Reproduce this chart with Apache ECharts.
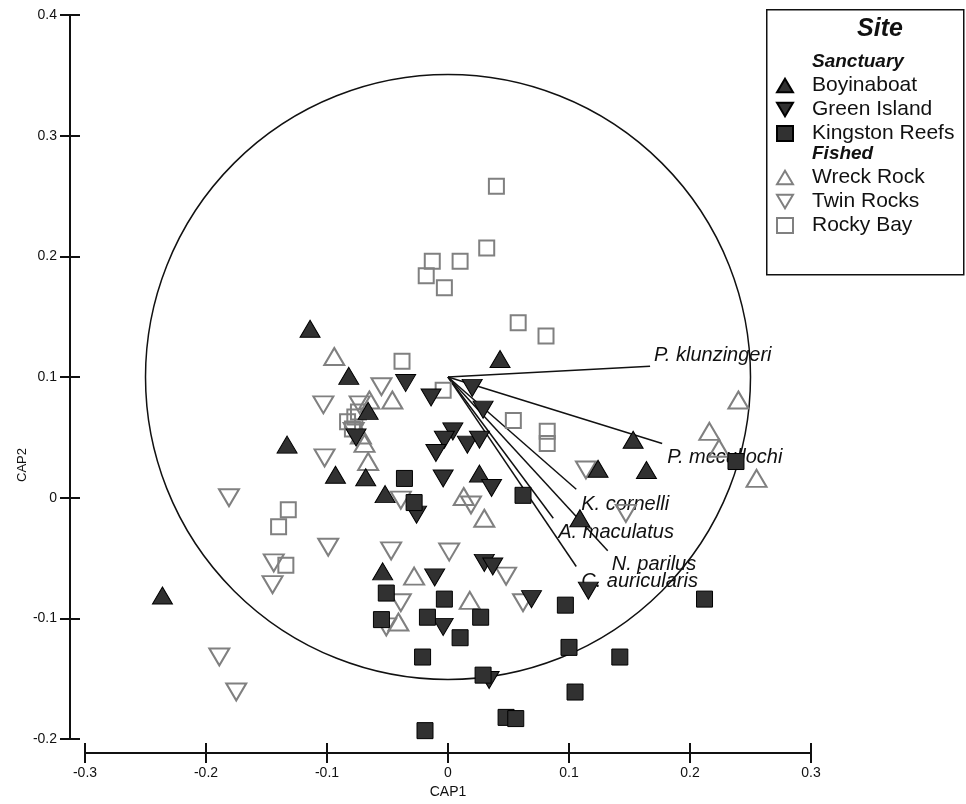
<!DOCTYPE html>
<html>
<head>
<meta charset="utf-8">
<script src="https://cdn.jsdelivr.net/npm/echarts@6/dist/echarts.min.js"></script>
<style>
  html, body { margin: 0; padding: 0; background: #fff; }
  #chart { width: 966px; height: 804px; }
</style>
</head>
<body>
<div id="chart"></div>
<script>
// CAP ordination scores by site (CAP1, CAP2)
const boyinaboat = [
  [-0.236, -0.081], [-0.114, 0.140], [-0.082, 0.101], [-0.133, 0.044], [-0.093, 0.019],
  [-0.068, 0.017], [-0.052, 0.003], [-0.066, 0.072], [-0.054, -0.061], [0.043, 0.115],
  [0.026, 0.020], [0.109, -0.017], [0.124, 0.024], [0.153, 0.048], [0.164, 0.023]
];
const greenIsland = [
  [-0.035, 0.095], [-0.014, 0.083], [0.020, 0.091], [0.029, 0.073], [0.004, 0.055],
  [-0.003, 0.048], [-0.010, 0.037], [0.016, 0.044], [0.026, 0.048], [-0.004, 0.016],
  [0.036, 0.008], [-0.026, -0.014], [-0.011, -0.066], [0.030, -0.054], [0.037, -0.057],
  [-0.004, -0.107], [0.034, -0.151], [0.069, -0.084], [0.116, -0.077], [-0.076, 0.050]
];
const kingstonReefs = [
  [-0.036, 0.016], [0.062, 0.002], [-0.028, -0.004], [0.238, 0.030], [-0.051, -0.079],
  [-0.003, -0.084], [-0.055, -0.101], [-0.017, -0.099], [0.027, -0.099], [0.010, -0.116],
  [-0.021, -0.132], [0.029, -0.147], [0.097, -0.089], [0.212, -0.084], [0.100, -0.124],
  [0.142, -0.132], [0.105, -0.161], [0.048, -0.182], [0.056, -0.183], [-0.019, -0.193]
];
const wreckRock = [
  [-0.094, 0.117], [-0.065, 0.081], [-0.046, 0.081], [-0.069, 0.045], [-0.066, 0.030],
  [0.013, 0.001], [0.030, -0.017], [-0.028, -0.065], [0.018, -0.085], [-0.041, -0.103],
  [0.216, 0.055], [0.224, 0.041], [0.240, 0.081], [0.255, 0.016], [-0.072, 0.052]
];
const twinRocks = [
  [-0.055, 0.092], [-0.103, 0.077], [-0.073, 0.077], [-0.102, 0.033], [-0.039, -0.002],
  [0.019, -0.006], [0.114, 0.023], [0.147, -0.013], [-0.181, 0.000], [-0.099, -0.041],
  [-0.144, -0.054], [-0.145, -0.072], [-0.189, -0.132], [-0.175, -0.161], [-0.047, -0.044],
  [0.001, -0.045], [0.048, -0.065], [0.062, -0.087], [-0.039, -0.087], [-0.051, -0.107],
  [-0.078, 0.055]
];
const rockyBay = [
  [0.040, 0.258], [0.032, 0.207], [-0.013, 0.196], [0.010, 0.196], [-0.018, 0.184],
  [-0.003, 0.174], [0.058, 0.145], [0.081, 0.134], [-0.038, 0.113], [-0.004, 0.089],
  [0.054, 0.064], [0.082, 0.055], [0.082, 0.045], [-0.132, -0.010], [-0.140, -0.024],
  [-0.134, -0.056], [-0.083, 0.063], [-0.077, 0.067], [-0.079, 0.057], [-0.074, 0.071]
];

// species correlation vectors (end points), drawn from the vector origin
const vectorOrigin = [0, 0.1];
const speciesNames = ['P. klunzingeri', 'P. mccullochi', 'K. cornelli', 'A. maculatus', 'N. parilus', 'C. auricularis'];
const speciesEnds = [
  [0.167, 0.109], [0.177, 0.045], [0.106, 0.007], [0.087, -0.017], [0.132, -0.044], [0.106, -0.057]
];

// correlation circle
const circleCentre = [0, 0.1];
const circleRadius = 0.25;

// axis tick labels
const xTickLabels = ['-0.3', '-0.2', '-0.1', '0', '0.1', '0.2', '0.3'];
const yTickLabels = ['-0.2', '-0.1', '0', '0.1', '0.2', '0.3', '0.4'];

const sanctuarySites = ['Boyinaboat', 'Green Island', 'Kingston Reefs'];
const fishedSites = ['Wreck Rock', 'Twin Rocks', 'Rocky Bay'];

// ---- styling ----
const FONT = '"Liberation Sans", Arial, Helvetica, sans-serif';
const INK = '#111';
const UP = 'path://M10,0L20,17L0,17Z';
const DOWN = 'path://M0,0L20,0L10,17Z';
const filled = { color: '#313131', borderColor: '#000', borderWidth: 1, opacity: 1 };
const hollow = { color: 'rgba(255,255,255,0)', borderColor: '#808080', borderWidth: 2, opacity: 1 };
const labelOffsets = [[4, -11], [5, 14], [5, 15], [5, 14], [4, 14], [5, 15]];

function tickLabel(labels, min) {
  return function (v) {
    const i = Math.round((v - min) / 0.1);
    return labels[i] !== undefined ? labels[i] : '';
  };
}

function siteSeries(name, data, symbol, size, style) {
  return {
    name: name, type: 'scatter', data: data,
    symbol: symbol, symbolSize: size,
    itemStyle: style, z: 5,
    emphasis: { disabled: true }
  };
}

function legendBlock(items, top) {
  return {
    data: items, orient: 'vertical', left: 776, top: top, padding: 0,
    itemWidth: 16, itemHeight: 15, itemGap: 3,
    textStyle: { color: INK, fontSize: 21, lineHeight: 20, fontFamily: FONT, padding: [0, 0, 0, 14] },
    selectedMode: false
  };
}

const chart = echarts.init(document.getElementById('chart'), null, { renderer: 'canvas' });

const axisLineStyle = { color: INK, width: 2 };

const option = {
  animation: false,
  backgroundColor: '#fff',
  textStyle: { fontFamily: FONT },
  grid: { left: 85, right: 155, top: 15, bottom: 62 },
  xAxis: [
    {
      type: 'value', min: -0.3, max: 0.3, interval: 0.1, position: 'bottom', offset: 14,
      axisLine: { onZero: false, lineStyle: axisLineStyle },
      axisTick: { length: 10, lineStyle: axisLineStyle },
      axisLabel: { color: INK, fontSize: 14, margin: 13, formatter: tickLabel(xTickLabels, -0.3) },
      splitLine: { show: false },
      name: 'CAP1', nameLocation: 'middle', nameGap: 27,
      nameTextStyle: { color: INK, fontSize: 14, verticalAlign: 'top' }
    },
    {
      type: 'value', min: -0.3, max: 0.3, interval: 0.1, position: 'bottom', offset: 14,
      axisLine: { show: false, onZero: false },
      axisTick: { inside: true, length: 10, lineStyle: axisLineStyle },
      axisLabel: { show: false }, splitLine: { show: false }
    }
  ],
  yAxis: [
    {
      type: 'value', min: -0.2, max: 0.4, interval: 0.1, position: 'left', offset: 15,
      axisLine: { show: true, onZero: false, lineStyle: axisLineStyle },
      axisTick: { show: true, length: 10, lineStyle: axisLineStyle },
      axisLabel: { color: INK, fontSize: 14, margin: 13, formatter: tickLabel(yTickLabels, -0.2) },
      splitLine: { show: false }
    },
    {
      type: 'value', min: -0.2, max: 0.4, interval: 0.1, position: 'left', offset: 15,
      axisLine: { show: false, onZero: false },
      axisTick: { show: true, inside: true, length: 10, lineStyle: axisLineStyle },
      axisLabel: { show: false }, splitLine: { show: false }
    }
  ],
  legend: [legendBlock(sanctuarySites, 75), legendBlock(fishedSites, 167)],
  graphic: [
    {
      type: 'rect', left: 766, top: 9, z: 1,
      shape: { width: 197, height: 265 },
      style: { fill: '#fff', stroke: INK, lineWidth: 1.5 }
    },
    {
      type: 'text', x: 880, y: 29, z: 2,
      style: { text: 'Site', font: 'italic bold 25px ' + FONT, fill: INK, align: 'center', verticalAlign: 'middle' }
    },
    {
      type: 'text', x: 812, y: 62, z: 2,
      style: { text: 'Sanctuary', font: 'italic bold 19px ' + FONT, fill: INK, align: 'left', verticalAlign: 'middle' }
    },
    {
      type: 'text', x: 812, y: 154, z: 2,
      style: { text: 'Fished', font: 'italic bold 19px ' + FONT, fill: INK, align: 'left', verticalAlign: 'middle' }
    },
    {
      type: 'text', x: 22, y: 465, rotation: Math.PI / 2, z: 2,
      style: { text: 'CAP2', font: '13px ' + FONT, fill: INK, align: 'center', verticalAlign: 'middle' }
    }
  ],
  series: [
    {
      type: 'custom', name: 'circle', data: [circleCentre], z: 2, silent: true,
      renderItem: function (params, api) {
        const c = api.coord([api.value(0), api.value(1)]);
        const r = api.size([circleRadius, 0])[0];
        return {
          type: 'circle',
          shape: { cx: c[0], cy: c[1], r: r },
          style: { fill: 'none', stroke: INK, lineWidth: 1.5 }
        };
      }
    },
    {
      type: 'custom', name: 'vectors', data: speciesEnds, z: 3, silent: true,
      renderItem: function (params, api) {
        const o = api.coord(vectorOrigin);
        const e = api.coord([api.value(0), api.value(1)]);
        const off = labelOffsets[params.dataIndex];
        return {
          type: 'group',
          children: [
            {
              type: 'line',
              shape: { x1: o[0], y1: o[1], x2: e[0], y2: e[1] },
              style: { stroke: INK, lineWidth: 1.5 }
            },
            {
              type: 'text', x: e[0] + off[0], y: e[1] + off[1],
              style: {
                text: speciesNames[params.dataIndex],
                font: 'italic 20px ' + FONT, fill: INK,
                align: 'left', verticalAlign: 'middle'
              }
            }
          ]
        };
      }
    },
    siteSeries('Wreck Rock', wreckRock, UP, [20, 17], hollow),
    siteSeries('Twin Rocks', twinRocks, DOWN, [20, 17], hollow),
    siteSeries('Rocky Bay', rockyBay, 'rect', 15, hollow),
    siteSeries('Boyinaboat', boyinaboat, UP, [20, 17], filled),
    siteSeries('Green Island', greenIsland, DOWN, [20, 17], filled),
    siteSeries('Kingston Reefs', kingstonReefs, 'rect', 16, filled)
  ]
};

chart.setOption(option);
</script>
</body>
</html>
